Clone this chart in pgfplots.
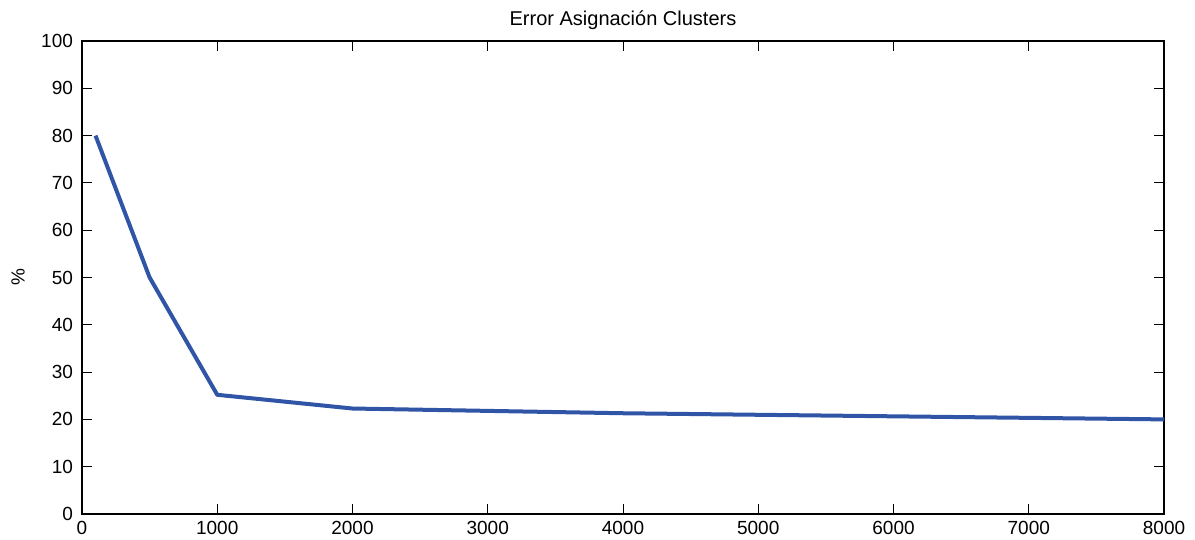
\documentclass[border=0pt]{standalone}
\usepackage{fontspec}
\setmainfont{Liberation Sans}
\usepackage{pgfplots}
\pgfplotsset{compat=1.18}

\definecolor{lineblue}{RGB}{49,85,166}

\begin{document}
\begin{tikzpicture}
\begin{axis}[
  scale only axis,
  width=541pt, height=236.5pt,
  xmin=0, xmax=8000, ymin=0, ymax=100,
  xtick distance=1000, ytick distance=10,
  tick align=inside,
  major tick length=5pt,
  tick style={black, line width=0.4pt},
  axis line style={black, line width=0.6pt},
  /pgf/number format/assume math mode=true,
  /pgf/number format/1000 sep={},
  tick label style={font=\fontsize{9.5}{11}\selectfont},
  xticklabel style={yshift=0pt},
  yticklabel style={xshift=-1pt},
  title={Error Asignación Clusters},
  title style={font=\fontsize{10}{12}\selectfont, at={(axis description cs:0.5,1)}, anchor=base, yshift=1.5pt},
  ylabel={\%},
  ylabel style={font=\fontsize{9.5}{11}\selectfont, at={(axis description cs:-0.059,0.5)}, anchor=center},
]
\addplot[lineblue, line width=2pt, line join=round] coordinates {
  (100,80) (500,50) (1000,25.2) (2000,22.3) (4000,21.3) (8000,20.0)
};
\end{axis}
\pgfresetboundingbox
\path (current axis.south west) ++(-41pt,-12.5pt) coordinate (bbA);
\path (current axis.north east) ++(15.5pt,20.5pt) coordinate (bbB);
\useasboundingbox (bbA) rectangle (bbB);
\end{tikzpicture}
\end{document}
